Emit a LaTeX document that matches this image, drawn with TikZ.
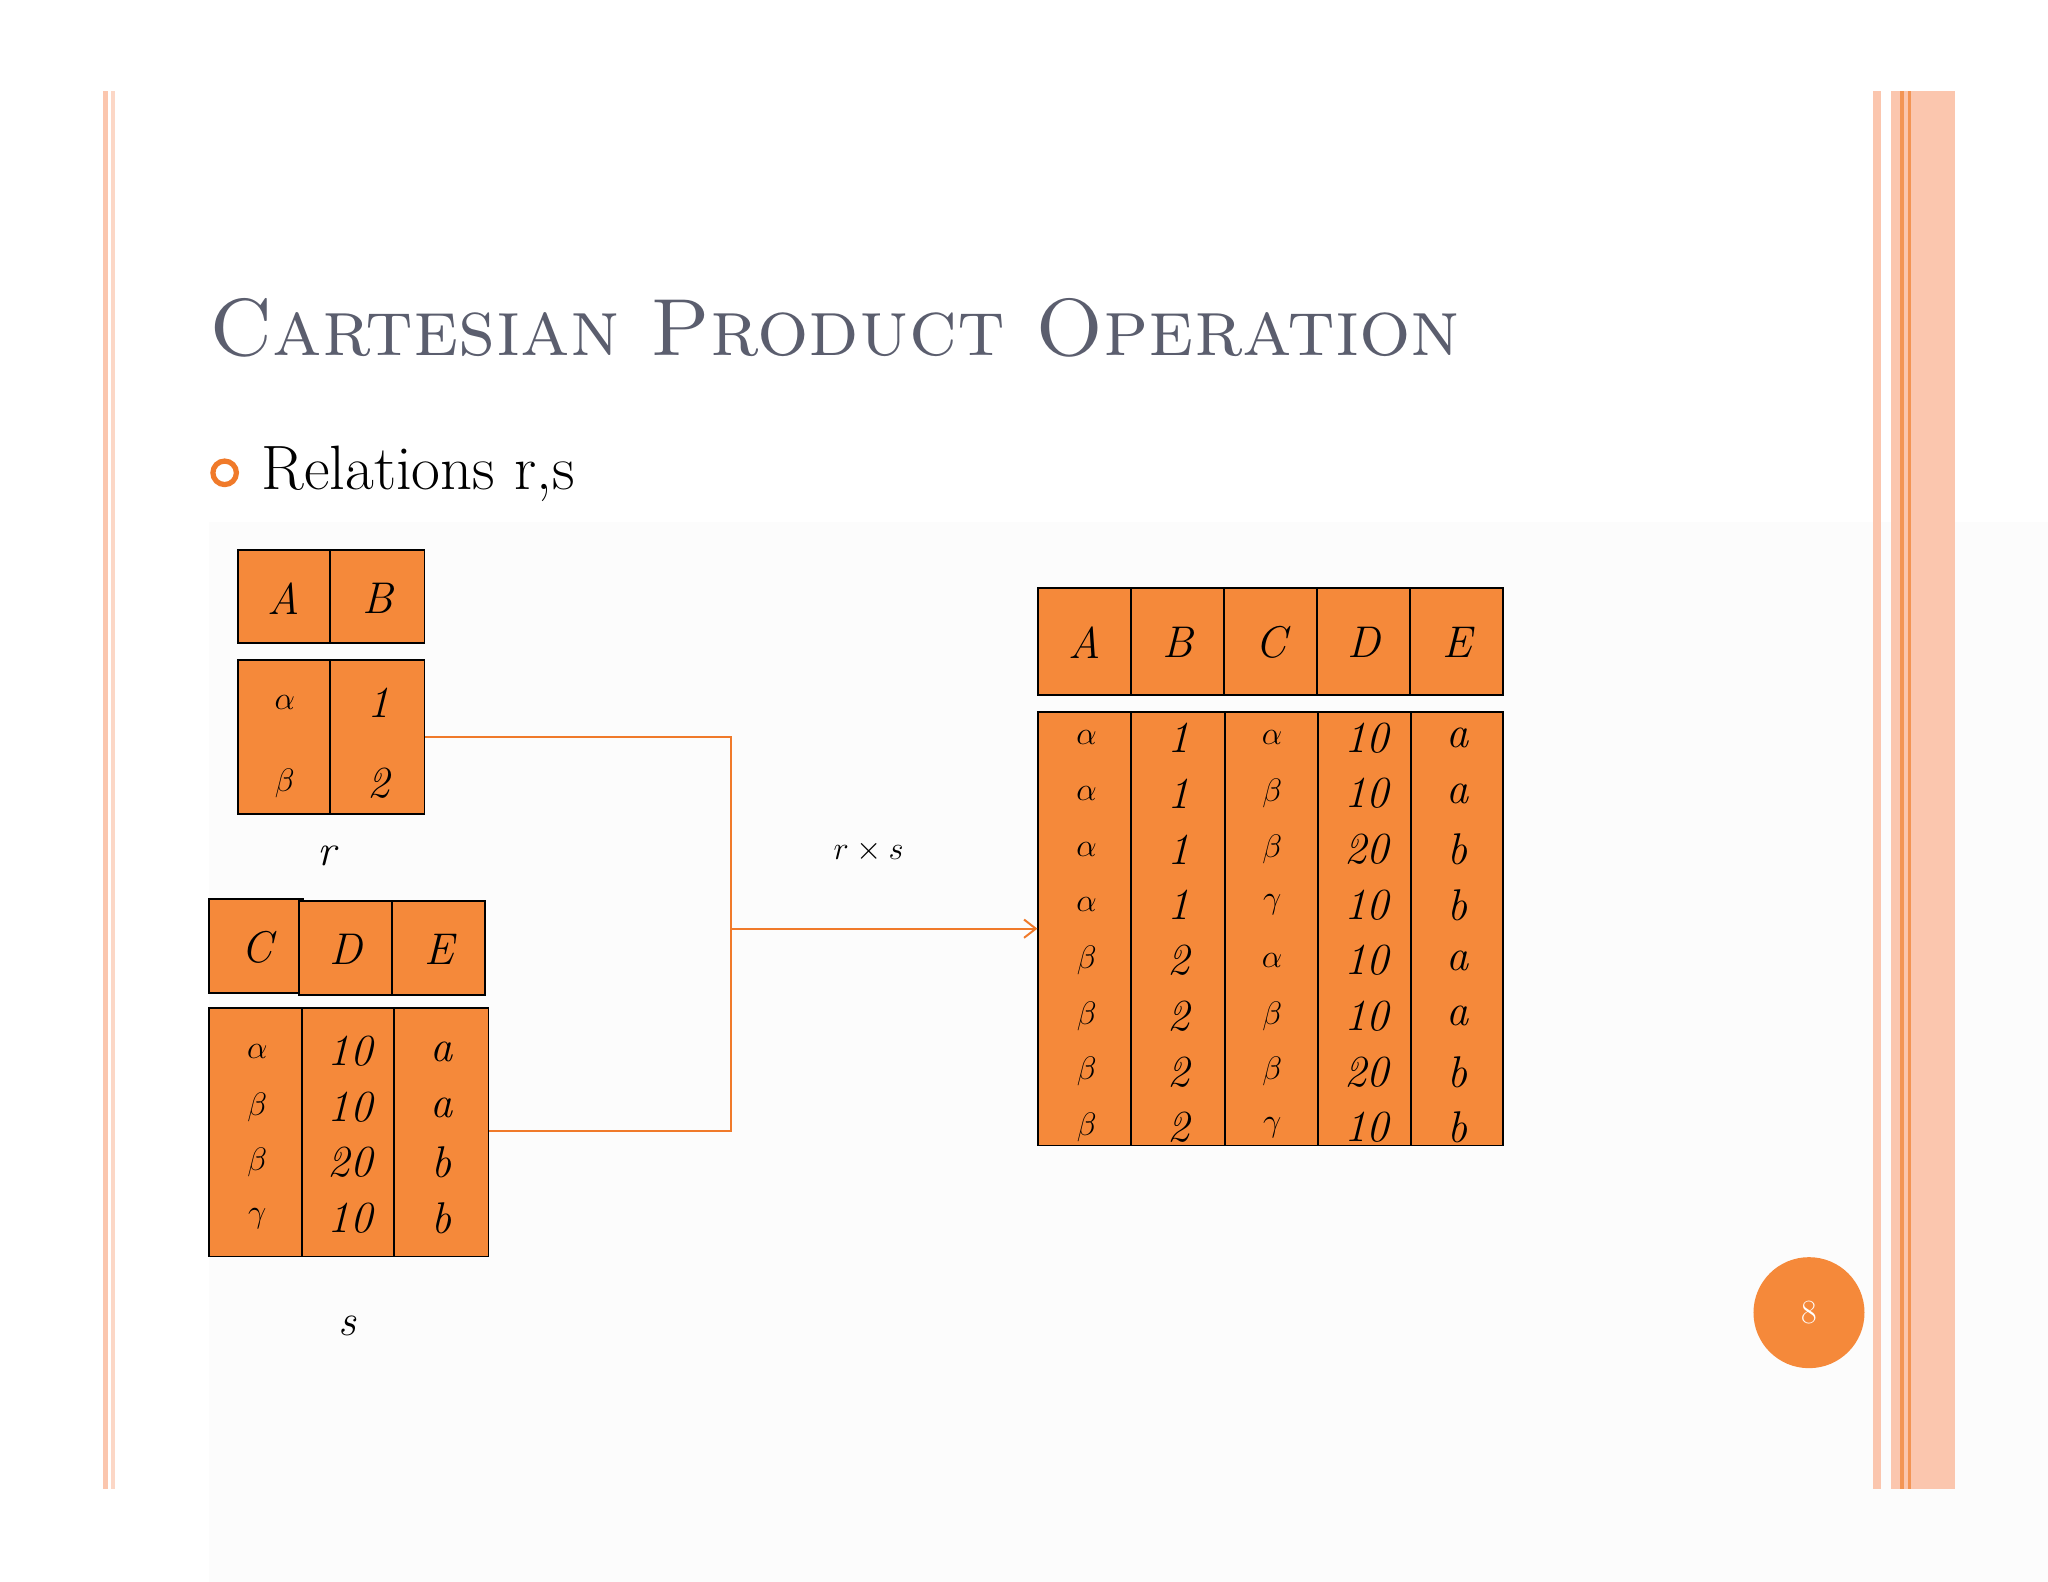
\documentclass[tikz,border=0pt]{standalone}
\usetikzlibrary{arrows.meta}
\definecolor{cellor}{HTML}{F5893A}
\definecolor{lineor}{HTML}{F07A2A}
\definecolor{pale}{HTML}{FBC6AE}
\definecolor{titlec}{HTML}{5B5E6E}
\begin{document}
\begin{tikzpicture}[x=1pt,y=-1pt,
  cell/.style={draw=black,line width=1.5pt,fill=cellor},
  ct/.style={font=\fontsize{34}{36}\selectfont\itshape,inner sep=0pt},
  conn/.style={draw=lineor,line width=1.5pt}]
\useasboundingbox (0,0) rectangle (1568,1211);
\fill[white] (0,0) rectangle (1568,1211);
\fill[black!1] (160,400) rectangle (1568,1211);
% borders
\fill[pale] (79,70) rectangle (83,1140);
\fill[pale!70] (85,70) rectangle (88,1140);
\fill[pale] (1434,70) rectangle (1440,1140);
\fill[pale] (1448,70) rectangle (1497,1140);
\fill[lineor!80] (1455,70) rectangle (1458,1140);
\fill[lineor!80] (1461,70) rectangle (1463,1140);
% title
\node[anchor=base west,inner sep=0pt,text=titlec,font=\fontsize{62}{70}\selectfont] (title) at (160,272) {\textsc{Cartesian Product Operation}};
\node[draw=lineor,line width=4pt,circle,minimum size=18pt,inner sep=0pt] (bul) at (172,362) {};
\node[anchor=base west,inner sep=0pt,font=\fontsize{48}{54}\selectfont] (rel) at (200,375) {Relations r,s};
% table r
\node[cell,minimum width=71pt,minimum height=71pt,inner sep=0pt] (rA) at (217.5,456.5) {};
\node[cell,minimum width=72pt,minimum height=71pt,inner sep=0pt] (rB) at (289,456.5) {};
\node[ct] at (217.5,458) {A};
\node[ct] at (289,458) {B};
\node[cell,minimum width=143pt,minimum height=118pt,inner sep=0pt] (rdata) at (253.5,564) {};
\draw[line width=1.5pt] (253,505) -- (253,623);
\foreach \a/\b/\y in {$\alpha$/1/538,$\beta$/2/600}{
  \node[ct] at (218,\y) {\a}; \node[ct] at (290,\y) {\b};}
\node[ct] (rl) at (250,655) {r};
% table s
\node[cell,minimum width=72pt,minimum height=72pt,inner sep=0pt] (sC) at (196,724) {};
\node[cell,minimum width=71pt,minimum height=72pt,inner sep=0pt] (sD) at (264.5,726) {};
\node[cell,minimum width=71pt,minimum height=72pt,inner sep=0pt] (sE) at (335.5,726) {};
\node[ct] at (197,725) {C};
\node[ct] at (264.5,727) {D};
\node[ct] at (336,727) {E};
\node[cell,minimum width=214pt,minimum height=190pt,inner sep=0pt] (sdata) at (267,867) {};
\draw[line width=1.5pt] (231,772) -- (231,962) (302,772) -- (302,962);
\foreach \c/\d/\e/\y in {$\alpha$/10/a/805,$\beta$/10/a/848,$\beta$/20/b/890,$\gamma$/10/b/933}{
  \node[ct] at (197,\y) {\c}; \node[ct] at (268,\y) {\d}; \node[ct] at (338,\y) {\e};}
\node[ct] (sl) at (266,1015) {s};
% result table
\foreach \h [count=\i from 0] in {A,B,C,D,E}{
  \node[cell,minimum width=71.2pt,minimum height=82pt,inner sep=0pt] (h\i) at ({830.6+71.2*\i},491) {};
  \node[ct] at ({830.6+71.2*\i},492) {\h};}
\node[cell,minimum width=356pt,minimum height=332pt,inner sep=0pt] (res) at (973,711) {};
\foreach \x in {866,938,1009,1080} \draw[line width=1.5pt] (\x,545) -- (\x,877);
\foreach \a/\b/\c/\d/\e [count=\j from 0] in {
  $\alpha$/1/$\alpha$/10/a,$\alpha$/1/$\beta$/10/a,$\alpha$/1/$\beta$/20/b,$\alpha$/1/$\gamma$/10/b,
  $\beta$/2/$\alpha$/10/a,$\beta$/2/$\beta$/10/a,$\beta$/2/$\beta$/20/b,$\beta$/2/$\gamma$/10/b}{
  \pgfmathsetmacro\yy{565+42.6*\j}
  \node[ct] at (832,\yy) {\a}; \node[ct] at (902,\yy) {\b}; \node[ct] at (974,\yy) {\c};
  \node[ct] at (1046,\yy) {\d}; \node[ct] at (1116,\yy) {\e};}
% connectors
\coordinate (j1) at (560,564);
\coordinate (j2) at (560,866);
\coordinate (jm) at (560,711);
\draw[conn] (rdata.east |- j1) -- (j1) -- (j2) -- (sdata.east |- j2);
\draw[conn,-{Straight Barb[length=9pt,width=14pt]}] (jm) -- (res.west |- jm);
\node[font=\fontsize{50}{56}\selectfont,inner sep=0pt] (op) at (665,652) {$r\times s$};
% page number
\node[circle,fill=cellor,minimum size=85pt,inner sep=0pt,text=white,font=\fontsize{26}{28}\selectfont] (pg) at (1385,1005) {8};
\end{tikzpicture}
\end{document}
